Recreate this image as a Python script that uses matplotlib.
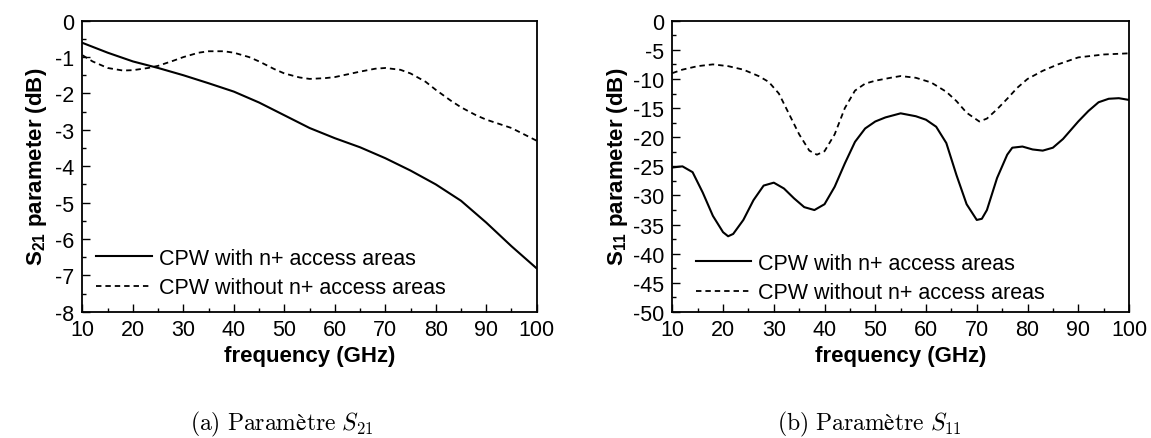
import matplotlib.pyplot as plt
from matplotlib.ticker import MultipleLocator

plt.rcParams['font.family'] = 'Liberation Sans'
plt.rcParams['axes.unicode_minus'] = False
plt.rcParams['mathtext.fontset'] = 'custom'
plt.rcParams['mathtext.rm'] = 'Liberation Sans'
plt.rcParams['mathtext.bf'] = 'Liberation Sans:bold'

# S21 (dB)
f21_with = [10, 15, 20, 25, 30, 35, 40, 45, 50, 55, 60, 65, 70, 75, 80, 85, 90, 95, 100]
s21_with = [-0.61, -0.88, -1.12, -1.3, -1.5, -1.72, -1.95, -2.25, -2.6, -2.95, -3.23, -3.48, -3.78, -4.12, -4.5, -4.95, -5.55, -6.2, -6.81]
f21_without = [10, 12, 15, 18, 20, 23, 25, 28, 30, 33, 35, 38, 40, 43, 45, 48, 50, 53, 55, 58, 60, 63, 65, 68, 70, 73, 75, 78, 80, 83, 85, 88, 90, 95, 100]
s21_without = [-0.95, -1.12, -1.3, -1.37, -1.36, -1.3, -1.24, -1.1, -1.0, -0.88, -0.84, -0.84, -0.88, -1.0, -1.12, -1.33, -1.45, -1.56, -1.6, -1.58, -1.55, -1.46, -1.4, -1.32, -1.3, -1.35, -1.45, -1.68, -1.9, -2.2, -2.38, -2.6, -2.72, -2.95, -3.3]

# S11 (dB)
f11_with = [10, 12, 14, 16, 18, 20, 21, 22, 24, 26, 28, 30, 32, 34, 36, 38, 40, 42, 44, 46, 48, 50, 52, 55, 58, 60, 62, 64, 66, 68, 70, 71, 72, 74, 76, 77, 79, 81, 83, 85, 87, 90, 92, 94, 96, 98, 100]
s11_with = [-25.2, -25.0, -26.0, -29.5, -33.5, -36.3, -37.0, -36.6, -34.2, -30.8, -28.3, -27.8, -28.8, -30.5, -32.0, -32.5, -31.5, -28.5, -24.5, -20.8, -18.5, -17.3, -16.6, -15.9, -16.4, -17.0, -18.2, -21.0, -26.5, -31.5, -34.2, -34.0, -32.5, -27.0, -23.0, -21.8, -21.6, -22.1, -22.3, -21.8, -20.3, -17.3, -15.5, -14.0, -13.4, -13.3, -13.6]
f11_without = [10, 12, 15, 18, 21, 24, 27, 29, 31, 33, 35, 37, 38.5, 40, 42, 44, 46, 48, 50, 53, 55, 58, 61, 64, 66, 68, 70.5, 72, 74, 76, 78, 80, 83, 86, 90, 95, 100]
s11_without = [-9.0, -8.4, -7.8, -7.5, -7.8, -8.4, -9.5, -10.5, -12.5, -16.0, -19.5, -22.3, -23.0, -22.4, -19.5, -15.0, -12.0, -10.8, -10.3, -9.8, -9.5, -9.8, -10.6, -12.2, -13.8, -15.8, -17.3, -16.8, -15.2, -13.4, -11.5, -10.0, -8.6, -7.5, -6.3, -5.8, -5.6]

W, H = 1151, 439
fig = plt.figure(figsize=(W / 100, H / 100), dpi=100)
ax1 = fig.add_axes([82.5 / W, (H - 312.7) / H, 454.2 / W, 291 / H])
ax2 = fig.add_axes([672.3 / W, (H - 313) / H, 456.7 / W, 291.3 / H])

dash = (0, (3, 2.2))
ax1.plot(f21_with, s21_with, color='black', lw=1.5, label='CPW with n+ access areas')
ax1.plot(f21_without, s21_without, color='black', lw=1.3, linestyle=dash, label='CPW without n+ access areas')
ax2.plot(f11_with, s11_with, color='black', lw=1.5, label='CPW with n+ access areas')
ax2.plot(f11_without, s11_without, color='black', lw=1.3, linestyle=dash, label='CPW without n+ access areas')

ax1.set_ylim(-8, 0)
ax1.yaxis.set_major_locator(MultipleLocator(1))
ax1.yaxis.set_minor_locator(MultipleLocator(0.5))
ax2.set_ylim(-50, 0)
ax2.yaxis.set_major_locator(MultipleLocator(5))
ax2.yaxis.set_minor_locator(MultipleLocator(2.5))

for ax, lx, ly in ((ax1, 0.011, 0.017), (ax2, 0.032, 0.0)):
    ax.set_xlim(10, 100)
    ax.xaxis.set_major_locator(MultipleLocator(10))
    ax.xaxis.set_minor_locator(MultipleLocator(5))
    ax.tick_params(which='major', direction='in', length=6, width=1, labelsize=15.5, pad=5)
    ax.tick_params(which='minor', direction='in', length=3, width=1)
    ax.tick_params(axis='y', pad=6)
    for sp in ax.spines.values():
        sp.set_linewidth(1.3)
    ax.set_xlabel('frequency (GHz)', fontsize=16, fontweight='bold', labelpad=4)
    ax.legend(loc='lower left', frameon=False, fontsize=15.5, handlelength=2.6,
              handletextpad=0.3, labelspacing=0.4, borderaxespad=0,
              bbox_to_anchor=(lx, ly))

ax1.set_ylabel(r'$\mathbf{S_{21}}$ parameter (dB)', fontsize=16, fontweight='bold', labelpad=4)
ax2.set_ylabel(r'$\mathbf{S_{11}}$ parameter (dB)', fontsize=16, fontweight='bold', labelpad=2)

fig.text(282 / W, 1 - 424 / H, r'$\mathrm{(a)\ Paramètre}\ S_{21}$',
         math_fontfamily='cm', fontsize=17, ha='center', va='center')
fig.text(869 / W, 1 - 424 / H, r'$\mathrm{(b)\ Paramètre}\ S_{11}$',
         math_fontfamily='cm', fontsize=17, ha='center', va='center')

fig.savefig('out.png', dpi=100)
